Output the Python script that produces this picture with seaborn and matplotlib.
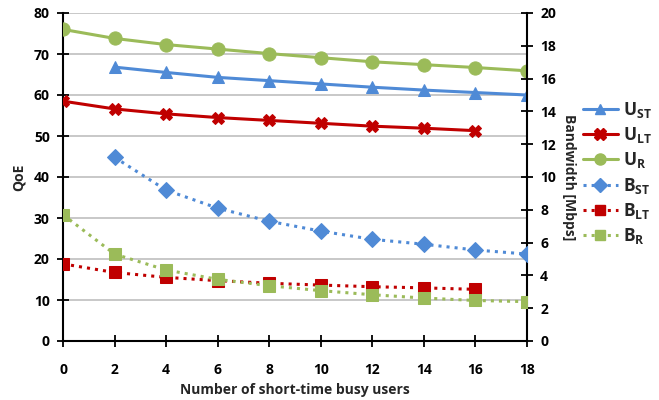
import matplotlib
matplotlib.use("Agg")
import matplotlib.pyplot as plt
import seaborn as sns
import pandas as pd
from matplotlib.lines import Line2D

sns.set_theme(style="white")
plt.rcParams['font.family'] = ['Open Sans', 'DejaVu Sans']
plt.rcParams['font.weight'] = 'bold'
plt.rcParams['mathtext.fontset'] = 'custom'
plt.rcParams['mathtext.bf'] = 'Open Sans:bold'
plt.rcParams['mathtext.rm'] = 'Open Sans:bold'

users = [0, 2, 4, 6, 8, 10, 12, 14, 16, 18]

# QoE (left axis)
u_st = [None, 66.8, 65.5, 64.3, 63.5, 62.7, 61.9, 61.2, 60.6, 60.0]
u_lt = [58.5, 56.6, 55.4, 54.5, 53.8, 53.1, 52.4, 51.9, 51.3, None]
u_r = [76.0, 73.8, 72.3, 71.2, 70.1, 69.1, 68.1, 67.4, 66.7, 65.9]

# Bandwidth in Mbps (right axis)
b_st = [None, 11.2, 9.2, 8.1, 7.3, 6.7, 6.2, 5.9, 5.55, 5.3]
b_lt = [4.7, 4.18, 3.88, 3.68, 3.52, 3.41, 3.31, 3.24, 3.15, None]
b_r = [7.7, 5.3, 4.33, 3.76, 3.37, 3.07, 2.82, 2.62, 2.47, 2.4]

labels = [r"$\mathbf{U_{ST}}$", r"$\mathbf{U_{LT}}$", r"$\mathbf{U_{R}}$",
          r"$\mathbf{B_{ST}}$", r"$\mathbf{B_{LT}}$", r"$\mathbf{B_{R}}$"]

blue = "#4F8AD6"
red = "#C00000"
green = "#9BBB59"

fig = plt.figure(figsize=(6.59, 4.0), dpi=100)
ax = fig.add_axes([63 / 659, 59 / 400, 464 / 659, 328 / 400])
ax2 = ax.twinx()

def draw(axis, values, color, marker, ls, ms, lw):
    df = pd.DataFrame({"x": users, "y": values}).dropna()
    sns.lineplot(data=df, x="x", y="y", ax=axis, color=color, marker=marker,
                 linestyle=ls, markersize=ms, linewidth=lw,
                 markeredgecolor=color, legend=False, zorder=3)

draw(ax, u_st, blue, "^", "-", 8.5, 2.2)
draw(ax, u_lt, red, "X", "-", 9, 2.2)
draw(ax, u_r, green, "o", "-", 9.5, 2.2)
draw(ax2, b_st, blue, "D", ":", 8.5, 2.2)
draw(ax2, b_lt, red, "s", ":", 8.5, 2.2)
draw(ax2, b_r, green, "s", ":", 8.5, 2.2)

ax.set_xlim(0, 18)
ax.set_ylim(0, 80)
ax2.set_ylim(0, 20)
ax.set_xticks(range(0, 19, 2))
ax.set_yticks(range(0, 81, 10))
ax2.set_yticks(range(0, 21, 2))

ax.yaxis.grid(True, color="#BFBFBF", linewidth=1.2)
ax.xaxis.grid(False)
ax.set_axisbelow(True)

for a in (ax, ax2):
    for s in a.spines.values():
        s.set_visible(False)
ax.spines['left'].set_visible(True)
ax.spines['bottom'].set_visible(True)
ax2.spines['right'].set_visible(True)
for s in (ax.spines['left'], ax.spines['bottom'], ax2.spines['right']):
    s.set_color("black")
    s.set_linewidth(1.5)

ax.tick_params(axis="both", direction="inout", length=9, width=1.3,
               colors="black", labelsize=10, pad=5)
ax2.tick_params(axis="y", direction="inout", length=9, width=1.3,
                colors="black", labelsize=10, pad=5)
ax.tick_params(axis="x", pad=11)
ax.tick_params(axis="y", left=True)
ax.tick_params(axis="x", bottom=True)
ax2.tick_params(axis="y", right=True)
for t in ax.get_xticklabels() + ax.get_yticklabels() + ax2.get_yticklabels():
    t.set_fontweight("bold")

ax.set_xlabel("Number of short-time busy users", fontsize=10,
              fontweight="bold", labelpad=5)
ax.set_ylabel("QoE", fontsize=10, fontweight="bold", labelpad=6)
ax2.set_ylabel("Bandwidth [Mbps]", fontsize=10, fontweight="bold",
               rotation=-90, labelpad=14)

handles = [
    Line2D([], [], color=blue, marker="^", ls="-", lw=2.2, ms=7),
    Line2D([], [], color=red, marker="X", ls="-", lw=2.2, ms=8),
    Line2D([], [], color=green, marker="o", ls="-", lw=2.2, ms=8),
    Line2D([], [], color=blue, marker="D", ls=":", lw=2.2, ms=7),
    Line2D([], [], color=red, marker="s", ls=":", lw=2.2, ms=7),
    Line2D([], [], color=green, marker="s", ls=":", lw=2.2, ms=7),
]
fig.legend(handles, labels, loc="upper left", bbox_to_anchor=(583 / 659, 1 - 100 / 400),
           frameon=False, fontsize=12.5, handlelength=2.0, handletextpad=0.3,
           labelspacing=0.3, borderaxespad=0, borderpad=0)

fig.savefig("out.png", dpi=100)
